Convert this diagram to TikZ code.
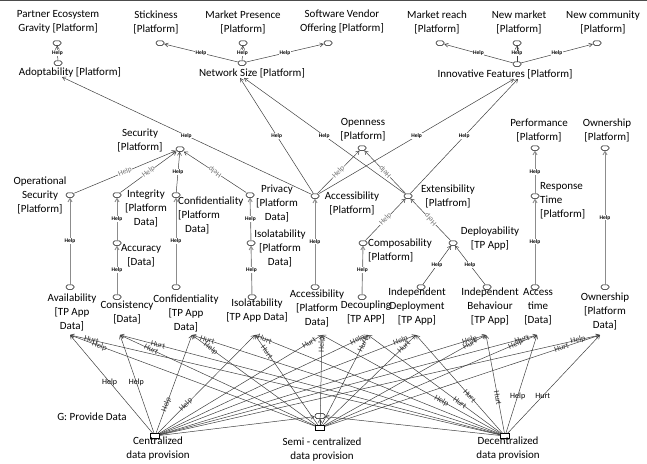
\documentclass[tikz,border=0pt]{standalone}
\usepackage{fontspec}
\setmainfont{Carlito}
\usetikzlibrary{arrows.meta}

\tikzset{
  lbl/.style={font=\fontsize{11}{14}\selectfont, align=center, inner sep=0pt},
  sg/.style={draw, rounded corners=1.8pt, minimum width=8pt, minimum height=4.5pt,
    inner sep=0pt, fill=white, line width=0.5pt},
  tk/.style={draw, minimum width=9pt, minimum height=5pt, inner sep=0pt, fill=white, line width=0.5pt},
  ctb/.style={-{Straight Barb[length=3.5pt,width=4pt]}, draw=black!75, line width=0.5pt},
  vtb/.style={-{Straight Barb[length=3.5pt,width=4pt]}, draw=black!45, line width=0.9pt},
  hp/.style={font=\fontsize{5.5}{5.5}\selectfont\bfseries, fill=white, inner sep=0.6pt},
  shp/.style={sloped, font=\fontsize{7.5}{7.5}\selectfont, text=black!55, fill=white, inner sep=0.4pt},
  fl/.style={sloped, font=\fontsize{8}{8}\selectfont, text=black!80, inner sep=0.3pt},
  fh/.style={font=\fontsize{8}{8}\selectfont, text=black, inner sep=0.3pt},
}

\begin{document}
\begin{tikzpicture}[x=1pt, y=-1pt]
  \useasboundingbox (0,0) rectangle (647,463);
  \draw[black!70, line width=1.2pt] (0,0.6) -- (647,0.6);

  % top row
  \node[lbl] (peg) at (58,22) {Partner Ecosystem\\Gravity [Platform]};
  \node[sg] (peg-i) at (57,43) {};
  \node[sg] (adopt-i) at (58,63) {};
  \node[lbl] (adopt) at (70,72) {Adoptability [Platform]};

  \node[lbl] (stick) at (156,22) {Stickiness\\{[}Platform]};
  \node[sg] (stick-i) at (160,43) {};
  \node[lbl] (mpres) at (243,22) {Market Presence\\{[}Platform]};
  \node[sg] (mpres-i) at (243,43) {};
  \node[lbl] (svo) at (342,22) {Software Vendor\\Offering [Platform]};
  \node[sg] (svo-i) at (328,43) {};
  \node[sg] (netsz-i) at (242,63) {};
  \node[lbl] (netsz) at (252,73) {Network Size [Platform]};

  \node[lbl] (mreach) at (437,22) {Market reach\\{[}Platform]};
  \node[sg] (mreach-i) at (440,43) {};
  \node[lbl] (nmarket) at (519,22) {New market\\{[}Platform]};
  \node[sg] (nmarket-i) at (517,43) {};
  \node[lbl] (ncomm) at (603,22) {New community\\{[}Platform]};
  \node[sg] (ncomm-i) at (597,43) {};
  \node[sg] (innov-i) at (517,64) {};
  \node[lbl] (innov) at (505,74) {Innovative Features [Platform]};

  \draw[ctb] (adopt-i) -- node[hp] {Help} (peg-i);
  \draw[ctb] (netsz-i) -- node[hp] {Help} (stick-i);
  \draw[ctb] (netsz-i) -- node[hp] {Help} (mpres-i);
  \draw[ctb] (netsz-i) -- node[hp] {Help} (svo-i);
  \draw[ctb] (innov-i) -- node[hp] {Help} (mreach-i);
  \draw[ctb] (innov-i) -- node[hp] {Help} (nmarket-i);
  \draw[ctb] (innov-i) -- node[hp] {Help} (ncomm-i);

  % middle row
  \node[lbl] (sec) at (140,140) {Security\\{[}Platform]};
  \node[sg] (sec-i) at (180,149) {};
  \node[lbl] (openn) at (363,130) {Openness\\{[}Platform]};
  \node[sg] (openn-i) at (362,148) {};
  \node[lbl] (perf) at (539,130) {Performance\\{[}Platform]};
  \node[sg] (perf-i) at (535,148) {};
  \node[lbl] (ownp) at (607,130) {Ownership\\{[}Platform]};
  \node[sg] (ownp-i) at (605,148) {};

  \node[lbl] (opsec) at (40,195) {Operational\\Security\\{[}Platform]};
  \node[sg] (opsec-i) at (70,195) {};
  \node[lbl] (integ) at (146,208) {Integrity\\{[}Platform\\Data]};
  \node[sg] (integ-i) at (117,195) {};
  \node[lbl, align=left, anchor=west] (confpd) at (178,215) {Confidentiality\\{[}Platform\\\hspace*{7pt}Data]};
  \node[sg] (confpd-i) at (176,195) {};
  \node[lbl] (priv) at (277,203) {Privacy\\{[}Platform\\Data]};
  \node[sg] (priv-i) at (250,195) {};
  \node[lbl] (accp) at (352,203) {Accessibility\\{[}Platform]};
  \node[sg] (accp-i) at (315,196) {};
  \node[lbl] (ext) at (448,196) {Extensibility\\{[}Platfrom]};
  \node[sg] (ext-i) at (408,196) {};
  \node[lbl, align=left, anchor=west] (resp) at (540,201) {Response\\Time\\{[}Platform]};
  \node[sg] (resp-i) at (535,196) {};

  \node[lbl] (accur) at (141,256) {Accuracy\\{[}Data]};
  \node[sg] (accur-i) at (117,243) {};
  \node[lbl] (isopd) at (280,248) {Isolatability\\{[}Platform\\Data]};
  \node[sg] (isopd-i) at (251,243) {};
  \node[lbl, align=left, anchor=west] (comp) at (368,250) {Composability\\{[}Platform]};
  \node[sg] (comp-i) at (363,243) {};
  \node[lbl] (depl) at (490,239) {Deployability\\{[}TP App]};
  \node[sg] (depl-i) at (453,243) {};

  % bottom row
  \node[lbl] (avail) at (72,312) {Availability\\{[}TP App\\Data]};
  \node[sg] (avail-i) at (70,287) {};
  \node[lbl] (consis) at (127,312) {Consistency\\{[}Data]};
  \node[sg] (consis-i) at (117,297) {};
  \node[lbl] (conftp) at (186,313) {Confidentiality\\{[}TP App\\Data]};
  \node[sg] (conftp-i) at (176,287) {};
  \node[lbl] (isotp) at (257,311) {Isolatability\\{[}TP App Data]};
  \node[sg] (isotp-i) at (252,297) {};
  \node[lbl] (accpd) at (317,308) {Accessibility\\{[}Platform\\Data]};
  \node[sg] (accpd-i) at (315,287) {};
  \node[lbl] (decoup) at (366,312) {Decoupling\\{[}TP APP]};
  \node[sg] (decoup-i) at (362,297) {};
  \node[lbl] (indd) at (417,307) {Independent\\Deployment\\{[}TP App]};
  \node[sg] (indd-i) at (421,287) {};
  \node[lbl] (indb) at (490,307) {Independent\\Behaviour\\{[}TP App]};
  \node[sg] (indb-i) at (487,287) {};
  \node[lbl] (acct) at (538,307) {Access\\time\\{[}Data]};
  \node[sg] (acct-i) at (535,287) {};
  \node[lbl] (ownpd) at (605,311) {Ownership\\{[}Platform\\Data]};
  \node[sg] (ownpd-i) at (605,287) {};

  % contributions to the top row
  \draw[ctb] (accp-i) -- node[hp] {Help} (adopt.south west -| 62,0);
  \draw[ctb] (accp-i) -- node[hp] {Help} (netsz.south -| 240,0);
  \draw[ctb] (ext-i) -- node[hp] {Help} (netsz.south -| 244,0);
  \draw[ctb] (accp-i) -- node[hp] {Help} (innov.south -| 514,0);
  \draw[ctb] (ext-i) -- node[hp] {Help} (innov.south -| 518,0);

  % sloped contributions
  \draw[ctb] (opsec-i) -- node[shp] {Help} (sec-i);
  \draw[ctb] (integ-i) -- node[shp] {Help} (sec-i);
  \draw[ctb] (confpd-i) -- node[hp] {Help} (sec-i);
  \draw[ctb] (priv-i) -- node[shp, allow upside down] {Help} (sec-i);
  \draw[ctb] (accp-i) -- node[shp] {Help} (openn-i);
  \draw[ctb] (ext-i) -- node[shp, allow upside down] {Help} (openn-i);
  \draw[ctb] (comp-i) -- node[shp] {Help} (ext-i);
  \draw[ctb] (depl-i) -- node[shp, allow upside down] {Help} (ext-i);
  \draw[ctb] (indd-i) -- node[hp] {Help} (depl-i);
  \draw[ctb] (indb-i) -- node[hp] {Help} (depl-i);

  % vertical contributions
  \draw[vtb] (avail-i) -- node[hp] {Help} (opsec-i);
  \draw[vtb] (accur-i) -- node[hp] {Help} (integ-i);
  \draw[vtb] (consis-i) -- node[hp] {Help} (accur-i);
  \draw[vtb] (conftp-i) -- node[hp] {Help} (confpd-i);
  \draw[vtb] (isopd-i) -- node[hp] {Help} (priv-i);
  \draw[vtb] (isotp-i) -- node[hp] {Help} (isopd-i);
  \draw[vtb] (accpd-i) -- node[hp] {Help} (accp-i);
  \draw[vtb] (decoup-i) -- node[hp] {Help} (comp-i);
  \draw[vtb] (resp-i) -- node[hp] {Help} (perf-i);
  \draw[vtb] (acct-i) -- node[hp] {Help} (resp-i);
  \draw[vtb] (ownpd-i) -- node[hp] {Help} (ownp-i);

  % data provision
  \node[font=\fontsize{11}{14}\selectfont] (gpd) at (92,417) {G: Provide Data};
  \node[sg, minimum width=10pt, minimum height=5pt] (goal-i) at (320,416) {};
  \node[tk] (cen-i) at (155,436) {};
  \node[lbl] (cen) at (158,449) {Centralized\\data provision};
  \node[tk] (semi-i) at (320,428) {};
  \node[lbl] (semi) at (322,450) {Semi - centralized\\data provision};
  \node[tk] (dec-i) at (505,436) {};
  \node[lbl] (dec) at (508,449) {Decentralized\\data provision};

  \draw[ctb] (cen-i) -- (goal-i);
  \draw[ctb] (dec-i) -- (goal-i);
  \draw[ctb] (semi-i) -- (goal-i);

  \foreach \n/\x in {avail/70, consis/120, conftp/192, isotp/255, accpd/322,
                     decoup/368, indd/416, indb/486, acct/537, ownpd/600}
    \coordinate (\n-in) at (\x,335);

  % centralized
  \foreach \n/\t/\p/\s in {avail/Help/0.52/fh, consis/Help/0.52/fh, conftp/Help/0.29/fl,
      isotp/Help/0.29/fl, accpd/Hurt/0.92/fl, decoup/Help/0.95/fl, indd/Help/0.94/fl,
      indb/Help/0.95/fl, acct/Hurt/0.96/fl, ownpd/Help/0.95/fl}
    \draw[ctb] (cen-i) -- node[\s, pos=\p] {\t} (\n-in);
  % semi-centralized
  \foreach \n/\t/\p/\s in {avail/Help/0.88/fl, consis/Hurt/0.84/fl, conftp/Help/0.85/fl,
      isotp/Hurt/0.81/fl, accpd/Help/0.89/fl, decoup/Hurt/0.89/fl, indd/Hurt/0.87/fl,
      indb/Hurt/0.9/fl, acct/Help/0.9/fl, ownpd/Hurt/0.86/fl}
    \draw[ctb] (semi-i) -- node[\s, pos=\p] {\t} (\n-in);
  % decentralized
  \foreach \n/\t/\p/\s in {avail/Hurt/0.95/fl, consis/Hurt/0.9/fl, conftp/Hurt/0.95/fl,
      isotp/Hurt/0.96/fl, accpd/Help/0.33/fl, decoup/Hurt/0.31/fl, indd/Hurt/0.38/fl,
      indb/Hurt/0.36/fl, acct/Help/0.38/fh, ownpd/Hurt/0.38/fh}
    \draw[ctb] (dec-i) -- node[\s, pos=\p] {\t} (\n-in);
\end{tikzpicture}
\end{document}
